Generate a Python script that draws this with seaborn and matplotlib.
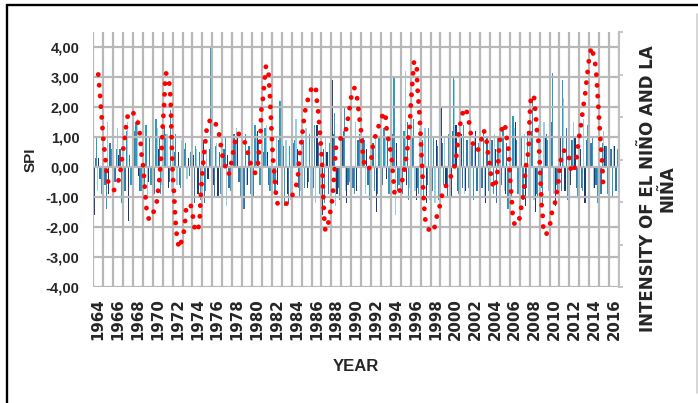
import numpy as np
import pandas as pd
import matplotlib
matplotlib.use("Agg")
import matplotlib.pyplot as plt
from matplotlib.lines import Line2D
import seaborn as sns

# years on the category axis
years = list(range(1964, 2017))
year_labels = [str(y) for y in range(1964, 2017, 2)]

# SPI values, two per year (first half, second half), four series
spi_navy = [-1.6, 0.3, 1.45, -0.9, -1.7, 0.4, -0.6, -1.8, 0.4, -0.3,
            1.0, -0.5, 2.3, 0.6, 1.9, -0.7, -1.0, 0.5, -0.5, 0.3,
            0.4, -0.9, 0.9, -0.4, -0.6, -1.0, -1.2, 0.4, -0.9, 1.1,
            1.3, -0.6, -0.8, 1.2, -0.7, 0.5, 2.85, -0.6, 1.3, -0.9,
            -1.3, 0.6, 1.1, -0.7, -0.8, 1.4, -1.6, 0.5, 2.9, -0.9,
            1.0, -1.2, 1.4, -0.8, -1.3, 0.6, 0.7, -1.5, 1.6, -0.4,
            -0.9, 0.8, 1.9, -0.6, 2.0, -1.1, 1.1, -1.2, -0.5, 0.9,
            2.0, -0.7, -1.0, 1.4, 1.1, -0.8, -0.6, 1.2, 0.8, -1.2,
            -1.8, 0.6, 1.3, -0.9, -1.1, 1.5, 0.9, -1.3, 1.6, -1.5,
            -0.7, 1.0, 2.3, -1.3, 1.0, -0.8, -0.6, 1.0, 0.6, -1.2,
            1.1, -0.7, -1.4, 0.7, -1.6, 0.7]
spi_mid = [0.3, -0.4, -0.6, 0.8, -0.5, 0.6, -0.8, 0.4, 1.2, -0.8,
           -0.6, 1.0, -0.9, 1.0, 1.3, -0.5, 0.5, -0.6, 0.6, -0.3,
           -1.2, 0.5, -1.2, 0.6, -1.0, 0.5, 0.6, -0.7, 1.1, -0.5,
           -1.4, 0.7, -1.0, 0.8, 0.5, -0.6, -0.5, 0.9, 0.7, -1.2,
           0.8, -0.7, 0.9, -0.5, -0.7, 0.8, 0.6, -0.9, 1.1, -0.7,
           1.2, -0.6, -0.7, 0.9, 1.0, -0.6, 0.8, -0.9, -0.6, 0.9,
           1.1, -0.8, -0.9, 1.5, 1.0, -0.7, 0.9, -0.6, -0.8, 0.7,
           0.8, -1.0, 1.2, -0.8, -0.7, 0.9, 0.7, -0.8, -0.7, 1.0,
           0.9, -1.2, -0.6, 0.8, -1.0, 0.9, 1.0, -0.7, 1.2, -0.9,
           -0.7, 1.1, 1.5, -0.6, -0.8, 1.3, 0.9, -0.7, -0.7, 0.9,
           0.8, -0.6, -0.9, 0.7, 0.6, -0.8]
spi_teal = [1.0, -0.9, -1.4, 0.6, 0.6, -1.2, 1.2, -0.6, 1.5, -0.8,
            1.4, -0.6, 1.6, -0.9, 1.1, 1.9, 1.1, -0.7, 0.8, 0.5,
            0.7, -1.1, -0.8, 4.0, 0.7, -0.9, 1.0, -0.8, 0.8, -1.0,
            1.1, -0.9, 1.4, -0.6, 1.3, -0.8, -0.9, 2.2, -1.3, 0.7,
            0.9, -1.0, -0.7, 1.1, 1.4, -0.9, -1.2, 0.8, 1.8, -1.1,
            2.0, -0.5, -0.9, 1.1, 0.9, -1.1, -0.8, 1.0, 1.3, -0.9,
            3.0, -0.6, 1.2, -1.1, 1.6, -0.9, -1.0, 1.3, 1.0, -1.1,
            -0.6, 1.1, 3.0, -0.9, 1.4, -0.7, -1.1, 0.8, 1.2, -0.8,
            -0.9, 1.0, 1.2, -1.4, 1.7, -0.9, -1.1, 1.2, 2.3, -1.0,
            -1.2, 0.9, 3.15, -0.8, 2.9, -1.1, 0.9, -1.0, -0.8, 1.4,
            1.0, -1.2, 0.8, -0.9, -1.0, 0.6]
spi_light = [-0.8, -0.5, 1.5, -0.7, 1.3, -0.6, 1.5, -1.0, 1.6, -0.5,
             -1.0, 0.8, 1.3, -0.6, 1.1, -0.8, -0.6, 0.9, -0.4, 4.15,
             0.6, -0.7, 0.6, -0.8, 0.8, -1.2, -1.3, 0.9, 1.3, -0.7,
             -0.6, 2.55, 1.1, -1.0, 1.4, -0.9, 1.0, -0.7, 0.9, -1.1,
             1.6, -0.8, 1.3, -1.0, -1.2, 1.9, 1.0, -0.8, -1.3, 1.2,
             -0.8, 1.3, 1.5, -1.0, -0.9, 1.2, 1.1, -1.4, 1.0, -0.8,
             -1.6, 1.2, 3.2, -0.7, -0.8, 1.3, 1.3, -1.1, -1.2, 1.1,
             1.0, -0.9, 2.9, -1.2, -0.9, 1.1, 1.0, -1.2, -1.0, 1.3,
             1.1, -1.0, -0.8, 1.2, 1.3, -1.1, 1.1, -1.0, -1.1, 1.4,
             1.5, -0.8, -0.9, 1.3, 2.3, -0.9, 1.5, -1.1, 1.6, -0.9,
             -0.7, 1.4, 1.2, -1.1, 0.7, -0.9]

# El Nino / La Nina intensity (right axis), time in decimal years
oni_year = [1964.50, 1964.68, 1964.85, 1965.01, 1965.21, 1965.35, 1965.51, 1966.09, 1966.42, 1966.69, 1966.96, 1967.13, 1967.37, 1967.60,
            1968.20, 1968.54, 1968.71, 1968.88, 1969.04, 1969.21, 1969.38, 1969.62, 1970.05, 1970.39, 1970.65, 1970.82, 1970.90, 1971.00,
            1971.13, 1971.23, 1971.33, 1971.56, 1971.73, 1971.83, 1971.90, 1972.00, 1972.14, 1972.24, 1972.34, 1972.47, 1972.65,
            1973.04, 1973.21, 1973.38, 1973.82, 1974.05, 1974.22, 1974.55, 1974.73, 1974.83, 1974.96, 1975.16, 1975.39, 1975.49, 1976.00,
            1976.50, 1976.74, 1976.90, 1977.07, 1977.41, 1977.65, 1977.91, 1978.08, 1978.25, 1978.52, 1978.86, 1979.19, 1979.42, 1979.67, 1979.93, 1980.33,
            1980.60, 1980.77, 1980.87, 1980.94, 1981.11, 1981.28, 1981.41, 1981.68, 1981.81, 1981.91, 1982.01, 1982.14, 1982.25, 1982.42, 1982.59,
            1983.25, 1983.83, 1984.36, 1984.60, 1984.77, 1984.87, 1985.04, 1985.27, 1985.44, 1985.77, 1986.12,
            1986.45, 1986.55, 1986.68, 1986.85, 1987.02, 1987.12, 1987.19, 1987.29, 1987.39, 1987.63, 1987.73, 1987.96, 1988.13, 1988.29, 1988.47,
            1989.07, 1989.47, 1989.65, 1989.81, 1989.98, 1990.21, 1990.35, 1990.55, 1990.68, 1990.78, 1990.96, 1991.12, 1991.22, 1991.39, 1991.79,
            1992.02, 1992.13, 1992.37, 1992.70, 1992.97, 1993.37, 1993.54, 1993.58, 1993.81, 1993.98, 1994.14, 1994.21, 1994.31, 1994.38, 1994.82,
            1995.09, 1995.32, 1995.49, 1995.65, 1995.75, 1995.90, 1996.00, 1996.16, 1996.33, 1996.60, 1996.66, 1996.73, 1996.83, 1996.90, 1997.00,
            1997.10, 1997.17, 1997.27, 1997.34, 1997.41, 1997.51, 1997.94,
            1998.27, 1998.52, 1998.68, 1999.02, 1999.18, 1999.42, 1999.89, 2000.33, 2000.56, 2000.66, 2000.76, 2000.90, 2001.10, 2001.34, 2001.57,
            2001.84, 2002.00, 2002.17, 2002.45, 2002.78, 2003.11, 2003.35, 2003.62, 2003.69, 2003.86, 2004.02, 2004.12, 2004.36, 2004.52, 2004.69,
            2004.80, 2004.87, 2004.93, 2005.13, 2005.30,
            2005.60, 2005.70, 2005.87, 2005.98, 2006.04, 2006.14, 2006.21, 2006.28, 2006.48, 2006.88, 2007.04, 2007.22, 2007.39, 2007.49, 2007.55,
            2007.72, 2007.89, 2007.95, 2008.05, 2008.15,
            2008.43, 2008.53, 2008.63, 2008.70, 2008.86, 2008.96, 2009.03, 2009.13, 2009.20, 2009.30, 2009.36, 2009.64, 2010.04, 2010.21, 2010.54,
            2010.71, 2010.87, 2010.98, 2011.12, 2011.32, 2011.72,
            2011.98, 2012.13, 2012.39, 2012.63, 2012.80, 2012.90, 2013.07, 2013.24, 2013.34, 2013.50, 2013.67, 2013.74, 2013.90, 2014.00, 2014.24,
            2014.47, 2014.68, 2014.75, 2014.81, 2014.91, 2015.01, 2015.08, 2015.15, 2015.25, 2015.35, 2015.41]
oni_value = [2.00, 1.52, 0.98, 0.48, 0.04, -0.29, -0.55, -0.72, -0.60, -0.36, 0.15, 0.42, 0.93, 1.14,
             1.07, 0.84, 0.58, 0.07, -0.18, -0.72, -1.21, -1.42, -1.25, -1.01, -0.50, -0.01, 0.27, 0.77,
             1.26, 1.79, 2.03, 1.95, 1.68, 1.16, 0.42, -0.32, -0.80, -1.27, -1.62, -1.89, -2.09,
             -1.82, -1.58, -1.07, -1.07, -1.35, -1.62, -1.70, -1.38, -0.88, -0.40, 0.11, 0.62, 0.85, 0.97,
             0.77, 0.54, 0.26, 0.03, -0.25, -0.36, -0.09, 0.15, 0.38, 0.62, 0.58, 0.46, 0.30, 0.07, -0.15, -0.32,
             -0.09, 0.38, 0.65, 1.16, 1.44, 1.91, 2.21, 1.99, 1.48, 0.97, 0.46, -0.05, -0.32, -0.84, -1.05,
             -1.09, -0.95, -0.70, -0.48, 0.03, 0.26, 0.52, 1.02, 1.26, 1.52, 1.75,
             1.64, 1.36, 1.12, 0.62, 0.11, -0.40, -0.91, -1.42, -1.66, -1.66, -1.42, -1.15, -0.88, -0.36, 0.34,
             0.54, 0.69, 0.93, 1.16, 1.44, 1.68, 1.68, 1.52, 1.32, 1.05, 0.77, 0.30, 0.03, -0.18, -0.23,
             -0.01, 0.26, 0.50, 0.73, 0.95, 1.12, 0.91, 0.65, 0.42, 0.18, -0.09, -0.36, -0.60, -0.84, -0.80,
             -0.56, -0.29, -0.04, 0.22, 0.48, 0.73, 1.24, 1.79, 2.29, 2.30, 1.79, 1.52, 1.26, 0.99, 0.54,
             0.03, -0.25, -0.80, -1.03, -1.27, -1.50, -1.70,
             -1.70, -1.50, -1.27, -1.03, -0.80, -0.68, -0.48, -0.25, -0.01, 0.21, 0.46, 0.72, 0.95, 1.20, 1.20,
             0.95, 0.69, 0.46, 0.22, 0.22, 0.46, 0.69, 0.54, 0.30, 0.04, -0.19, -0.44, -0.68, -0.64, -0.40,
             -0.17, 0.11, 0.38, 0.63, 0.85,
             0.73, 0.46, 0.22, -0.25, -0.52, -0.80, -1.03, -1.31, -1.54, -1.50, -1.27, -1.03, -0.80, -0.52, -0.25,
             -0.01, 0.22, 0.73, 1.26, 1.52,
             1.48, 1.24, 0.97, 0.73, 0.46, 0.18, -0.18, -0.68, -1.07, -1.31, -1.58, -1.78, -1.54, -1.27, -1.03,
             -0.80, -0.56, -0.29, -0.05, 0.20, 0.22,
             0.03, -0.21, -0.32, -0.09, 0.15, 0.42, 0.65, 0.93, 1.16, 1.40, 1.68, 1.91, 2.17, 2.42, 2.65,
             2.42, 2.15, 1.89, 1.64, 1.26, 0.89, 0.62, 0.38, 0.11, -0.28, -0.64]

series = {'navy': spi_navy, 'mid': spi_mid, 'teal': spi_teal, 'light': spi_light}
palette = {'navy': '#22396C', 'mid': '#2F78AE', 'teal': '#2A9CC4', 'light': '#97CFE4'}

# build a long table: each year split in 8 slots, one per series and half year
rows = []
for s, (name, vals) in enumerate(series.items()):
    for i, y in enumerate(years):
        for h in range(2):
            rows.append({'x': y + (4 * h + s + 0.5) / 8, 'spi': vals[2 * i + h], 'serie': name})
spi_df = pd.DataFrame(rows)

sns.set_style("white")
plt.rcParams['patch.force_edgecolor'] = False
narrow = ['Liberation Sans', 'DejaVu Sans']
wide = ['DejaVu Sans']
txt_color = '#262626'
grid_color = '#B8B8B8'

fig = plt.figure(figsize=(6.98, 4.03), dpi=100)
ax = fig.add_axes([93.3 / 698, 1 - 287 / 403, (619 - 93.3) / 698, (287 - 32) / 403])

sns.barplot(data=spi_df, x='x', y='spi', hue='serie', palette=palette, native_scale=True, width=1.0,
            dodge=False, errorbar=None, saturation=1, legend=False, linewidth=0, ax=ax, zorder=3)

ax.set_xlim(1964, 2017)
ax.set_ylim(-4, 4.5)

ax.set_yticks(range(-4, 5))
ax.set_yticklabels([f"{v:.2f}".replace('.', ',') for v in range(-4, 5)],
                   family=narrow, fontweight='bold', fontsize=10.5, color=txt_color)
ax.set_xticks([int(t) + 0.5 for t in year_labels])
ax.set_xticklabels(year_labels, rotation=90, family=wide, fontweight='bold', fontsize=10.8, color=txt_color)
ax.tick_params(axis='both', which='both', length=0)
ax.tick_params(axis='y', pad=10)
ax.tick_params(axis='x', pad=8)
for sp in ax.spines.values():
    sp.set_visible(False)

ax.set_ylabel('SPI', family=narrow, fontweight='bold', fontsize=11, color=txt_color, labelpad=6)
ax.set_xlabel('YEAR', family=narrow, fontweight='bold', fontsize=12, color=txt_color, labelpad=14)

ax2 = ax.twinx()
ax2.patch.set_visible(False)

# grid on the twin axes (SPI units through the left scale), under the red line
ax2.vlines(range(1964, 2018), -4, 4.5, transform=ax.transData, color=grid_color, lw=1.6, zorder=0.5)
ax2.hlines(range(-4, 5), 1964, 2017, transform=ax.transData, color=grid_color, lw=1.6, zorder=0.5)

sns.lineplot(x=oni_year, y=oni_value, ax=ax2, color='#FF0000', linewidth=3.5,
             linestyle=(0, (0.01, 2.2)), dash_capstyle='round', sort=False, estimator=None, zorder=3)
ax2.set_xlim(1964, 2017)
ax2.set_ylim(-3, 3)
ax2.set_yticks(range(-3, 4))
ax2.set_yticklabels([''] * 7)
ax2.tick_params(axis='y', direction='out', length=3, width=1.2, color='#BFBFBF')
for name, sp in ax2.spines.items():
    sp.set_visible(name == 'right')
ax2.spines['right'].set_color('#BFBFBF')
ax2.spines['right'].set_linewidth(1.5)
ax2.set_ylabel('')

fig.text(657.5 / 698, 1 - 188.5 / 403, 'INTENSITY OF EL NIÑO AND LA\nNIÑA', rotation=90,
         ha='center', va='center', multialignment='center', family=wide, fontweight='bold',
         fontsize=12, color=txt_color, linespacing=1.1)

# frame around the figure
fig.add_artist(Line2D([7.5 / 698, 7.5 / 698], [0, 1 - 5 / 403], transform=fig.transFigure, color='black', lw=1.7))
fig.add_artist(Line2D([7.5 / 698, 1], [1 - 5 / 403, 1 - 5 / 403], transform=fig.transFigure, color='black', lw=1.7))
fig.add_artist(Line2D([696.5 / 698, 696.5 / 698], [1 - 393 / 403, 1 - 14 / 403], transform=fig.transFigure, color='#D0D0D0', lw=1.2))

fig.savefig('out.png', dpi=100)
